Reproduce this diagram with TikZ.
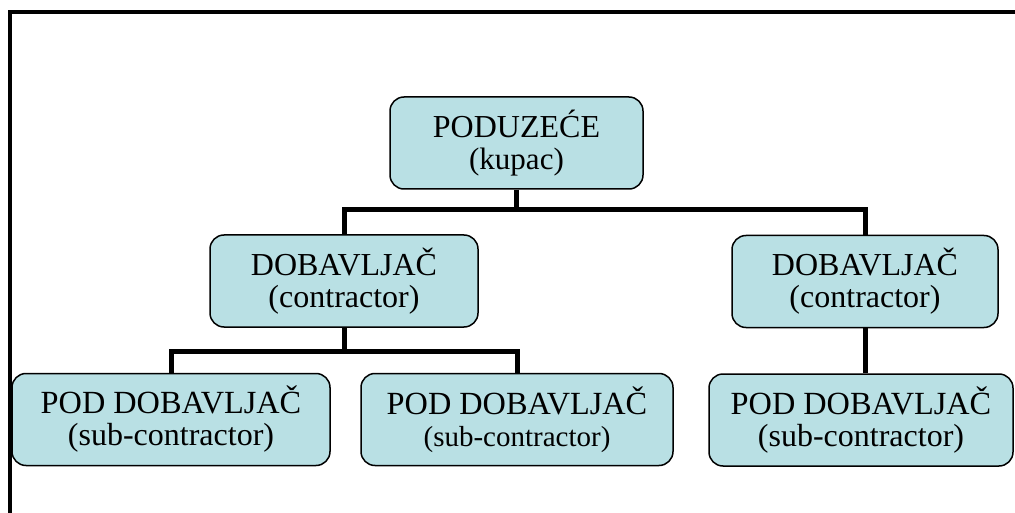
\documentclass[tikz,border=0pt]{standalone}
\usepackage{fontspec}
\setmainfont{Liberation Serif}
\definecolor{boxfill}{RGB}{185,224,228}
\begin{document}
\begin{tikzpicture}[x=1pt,y=-1pt,
  orgbox/.style={draw=black,line width=1.5pt,fill=boxfill,rounded corners=14pt,
    align=center,inner sep=0pt,minimum height=92pt,font=\fontsize{32}{32}\selectfont},
  link/.style={line width=5pt},
  frameline/.style={line width=4pt}]
\useasboundingbox (0,0) rectangle (1015,513);
\draw[frameline] (10,530) -- (10,12) -- (1030,12);

\node[orgbox,minimum width=253pt] (top) at (516.5,143)
  {\fontsize{32}{32}\selectfont PODUZEĆE\\\fontsize{31}{32}\selectfont (kupac)};
\node[orgbox,minimum width=268pt] (dl) at (344,281)
  {\fontsize{32}{32}\selectfont DOBAVLJAČ\\\fontsize{32}{32}\selectfont (contractor)};
\node[orgbox,minimum width=266pt] (dr) at (865,281.5)
  {\fontsize{32}{32}\selectfont DOBAVLJAČ\\\fontsize{32}{32}\selectfont (contractor)};
\node[orgbox,minimum width=318pt] (s1) at (171,419.5)
  {\fontsize{32.3}{31}\selectfont POD DOBAVLJAČ\\\fontsize{32}{31}\selectfont (sub-contractor)};
\node[orgbox,minimum width=312pt] (s2) at (517,419.5)
  {\fontsize{32.3}{31}\selectfont POD DOBAVLJAČ\\\fontsize{29}{31}\selectfont (sub-contractor)};
\node[orgbox,minimum width=304pt] (s3) at (861,420)
  {\fontsize{32.3}{31}\selectfont POD DOBAVLJAČ\\\fontsize{32}{31}\selectfont (sub-contractor)};

\coordinate (b1) at (516.5,210);
\coordinate (b2) at (344,351);
\draw[link] (top.south) -- (b1);
\draw[link] (b1) -| (dl.north);
\draw[link] (b1) -| (dr.north);
\draw[link] (dl.south) -- (b2);
\draw[link] (b2) -| (s1.north);
\draw[link] (b2) -| (s2.north);
\draw[link] (dr.south) -- (dr.south |- s3.north);
\end{tikzpicture}
\end{document}
